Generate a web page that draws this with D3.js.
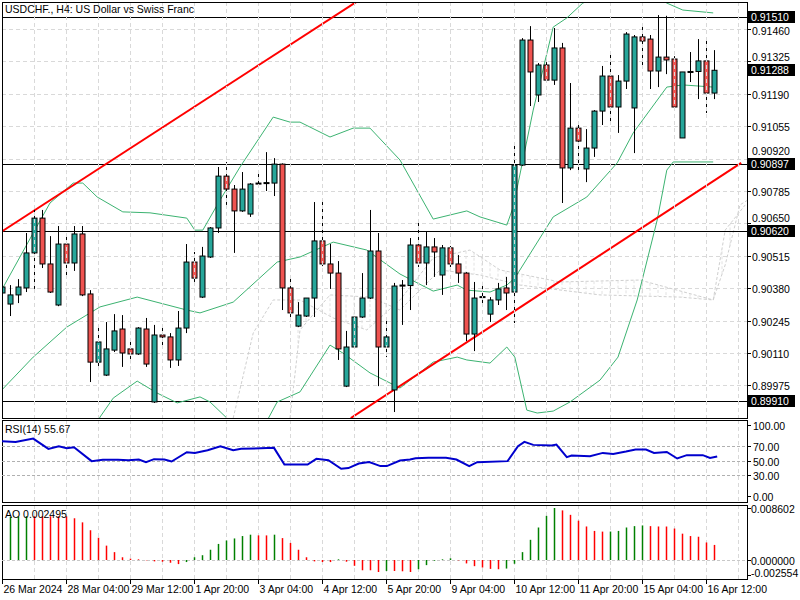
<!DOCTYPE html>
<html><head><meta charset="utf-8">
<script src="https://cdn.jsdelivr.net/npm/d3@7/dist/d3.min.js"></script>
<style>body{margin:0;background:#fff}svg{display:block}text{font-family:"Liberation Sans",Arial,sans-serif;font-size:10.5px}</style>
</head><body><svg id="c" width="800" height="600"></svg>
<script>
// OHLC in points (price*1e5)
const opens=[90360,90314,90352,90381,90527,90672,90481,90310,90564,90485,90606,90356,90072,90018,90122,90210,90127,90106,90210,89906,90185,90177,90081,90214,90489,90343,90510,90631,90847,90793,90702,90689,90818,90818,90818,90897,90381,90222,90264,90339,90577,90481,90443,89972,90135,90260,90339,90535,90135,89956,90393,90391,90560,90485,90552,90435,90548,90481,90443,90189,90343,90272,90331,90381,90364,90893,91414,91185,91310,91247,91381,90881,91047,90877,90964,91118,91264,91135,91243,91131,91427,91418,91285,91343,91335,91006,91281,91283,91327,91193];
const highs=[90402,90393,90418,90610,90706,90706,90597,90639,90610,90639,90639,90372,90222,90239,90272,90268,90168,90218,90256,90227,90227,90193,90285,90564,90531,90552,90635,90885,90906,90810,90864,90818,90856,90947,90922,90900,90427,90322,90339,90739,90739,90564,90493,90202,90260,90443,90706,90610,90256,90402,90414,90589,90652,90614,90589,90560,90556,90518,90447,90406,90406,90343,90402,90427,90977,91422,91472,91318,91322,91464,91402,91235,91060,91043,91122,91306,91368,91268,91447,91435,91472,91435,91518,91515,91347,91281,91364,91418,91418,91372];
const lows=[90331,90264,90318,90364,90377,90464,90360,90305,90427,90452,90347,89989,90039,90014,90114,90052,90068,90102,90052,89902,90135,90048,90056,90193,90406,90339,90506,90610,90727,90527,90698,90677,90810,90785,90764,90289,90260,90218,90260,90260,90472,90377,90081,89968,90131,90256,90335,89972,90093,89864,90227,90289,90468,90393,90427,90352,90468,90402,90160,90118,90318,90239,90310,90289,90235,90889,91139,91156,91235,91227,90735,90872,90860,90822,90927,91060,91068,91027,91210,90943,91310,91210,91218,91272,91131,91006,91239,91168,91110,91168];
const closes=[90385,90352,90385,90527,90672,90481,90364,90564,90485,90606,90352,90072,90156,90127,90202,90110,90106,90214,90064,90185,90177,90081,90214,90489,90422,90514,90631,90847,90793,90702,90793,90814,90814,90820,90897,90381,90277,90268,90339,90577,90481,90443,90127,90135,90260,90339,90535,90135,90177,90389,90391,90560,90485,90552,90531,90548,90481,90443,90189,90339,90345,90331,90377,90360,90893,91414,91281,91310,91247,91381,90881,91047,90993,90964,91118,91264,91135,91243,91439,91427,91410,91285,91343,91331,91135,91281,91283,91327,91193,91288];
// Bollinger bands [bar index, points]
const bbUpper=[[-0.25,90360],[3.9,90610],[6,90735],[8.9,90818],[10.1,90818],[11.9,90760],[15.1,90698],[18.5,90694],[23.1,90672],[24.1,90622],[25.1,90622],[27.25,90747],[29.75,90885],[33.9,91093],[36,91072],[37.25,91072],[41,91010],[43.9,91047],[46,91047],[49.75,90914],[53.9,90668],[58.1,90702],[59.75,90677],[63.1,90643],[63.9,90718],[66.4,91122],[68.9,91468],[70.6,91506],[72.6,91568],[76,91614],[81,91614],[83.1,91568],[85.1,91539],[88.9,91527]];
const bbMiddle=[[-0.25,89948],[3.9,90093],[8.1,90218],[12.25,90302],[16.9,90343],[23.1,90289],[24.75,90277],[28.9,90322],[34.4,90489],[37.25,90510],[41.4,90572],[45.6,90539],[49.75,90439],[53.9,90368],[56.9,90393],[58.1,90372],[61,90364],[63.1,90393],[64.1,90422],[68.9,90677],[73.1,90760],[76.9,90902],[78.9,91027],[83.1,91218],[85.1,91227],[88.9,91218]];
const bbLower=[[11,89747],[12.25,89843],[13.9,89922],[16.9,89993],[19.4,89943],[21.9,89902],[24.75,89927],[26,89906],[28.1,89839],[30.4,89789],[32.5,89789],[34.4,89906],[37.25,89948],[41,90143],[42.6,90110],[46,90027],[49.75,89964],[53.9,90072],[56.9,90093],[58.1,90081],[61,90068],[63.1,90135],[64.1,90093],[65.6,89872],[66.9,89860],[68.9,89868],[71,89906],[74.75,89997],[77,90093],[79.4,90331],[81.9,90664],[83.1,90872],[83.9,90906],[88.9,90906]];
const cloudA=[[28.9,89839],[31.4,90193],[33.9,90331],[37.25,90331],[41.4,90256],[45.6,90206],[49.75,90331],[53.9,90506],[58.5,90539],[62.25,90456],[69.75,90406],[79.75,90414],[88.9,90331],[90.4,90477],[92.25,90727],[93.25,90748]];
const cloudB=[[36,89839],[37.25,90206],[41,90352],[46,90343],[49.75,90289],[54.75,90456],[59.75,90435],[64.75,90393],[74.75,90352],[84.75,90343],[88.9,90331],[90.4,90622],[92.9,90727]];
const trendUpper=[[-0.5,90606],[44.25,91572]];
const trendLower=[[43.6,89839],[92.4,90902]];
const hLines=[91510,90897,90620,89910];
const priceTicks=[91460,91325,91190,91055,90920,90785,90650,90515,90380,90245,90110,89975];
const priceMarks=[91510,91288,90897,90620,89910];
const rsi=[[0,77.1],[1.7,76.2],[3.9,80.8],[5.8,66.4],[7.1,70.1],[8.1,67.3],[9,68.7],[11.2,49.1],[12.6,50.9],[14.5,50.9],[15.8,50.5],[17.1,51.4],[18,47.7],[19,51.9],[20.3,51.4],[21.2,48.6],[23.1,61.7],[24.1,60.7],[25.7,64.5],[27.3,70.1],[28.9,64.5],[29.9,66.4],[34,67.8],[35.3,44.4],[38.2,44.4],[39.3,52.3],[40.8,50.5],[42.4,38.3],[43.3,39.3],[44.6,45.8],[45.9,47.7],[47.3,42.1],[48.1,42.1],[49.75,50],[51,51.4],[51.7,53.3],[53.3,53.7],[55.5,53.7],[56.8,51.4],[58.4,42.1],[59.4,47.7],[63.2,49.1],[64.5,70.1],[65.3,76.2],[66.4,72],[68.7,71],[69.3,72.4],[70.6,54.7],[71.2,57],[73.5,56.1],[75.1,60.7],[76.4,59.3],[78,62.6],[79.2,65.4],[80.5,65.4],[81.5,60.7],[83.1,62.1],[84.4,52.8],[85.6,57.5],[87.6,57.5],[88.5,53.7],[89.4,55.67]];
const rsiLevels=[70,50,30];
const rsiTicks=[100,70,50,30,0];
// AO (x1e-6), bars 1..89
const ao=[7150,7200,7250,7245,7240,7235,7230,7225,6905,6226,4924,3679,2377,1302,453,226,113,-57,-226,-283,-453,-679,-340,453,792,1698,2660,3226,3566,3962,4188,4075,4070,4188,3622,2830,1698,453,-226,-340,-345,113,-283,-962,-1698,-1700,-1981,-1811,-1815,-1868,-1981,-1528,-849,-113,113,283,-57,-566,-1019,-1245,-1471,-1528,-1415,-623,1302,3339,5377,7301,8602,8207,7471,6509,5547,4811,4698,4705,4811,5377,5603,5717,5603,5547,5540,5207,4358,3962,3849,2900,2495];
const aoTicks=[8602,0,-2554];
const timeLabels=["26 Mar 2024","28 Mar 04:00","29 Mar 12:00","1 Apr 20:00","3 Apr 04:00","4 Apr 12:00","5 Apr 20:00","9 Apr 04:00","10 Apr 12:00","11 Apr 20:00","15 Apr 04:00","16 Apr 12:00"];

const svg=d3.select("#c");
const L=2,R=747;
const x=d3.scaleLinear().domain([0,89]).range([2,714]);
const y=d3.scaleLinear().domain([91510,89910]).range([17,401]);
const yR=d3.scaleLinear().domain([0,100]).range([496,425]);
const yA=d3.scaleLinear().domain([0,8602]).range([560,508]);
const panels=[[2,418],[420,502],[505,579]];
const fmt=v=>(v/1e5).toFixed(5);

const defs=svg.append("defs");
panels.forEach((p,k)=>defs.append("clipPath").attr("id","cp"+k).append("rect").attr("x",L).attr("y",p[0]).attr("width",R-L).attr("height",p[1]-p[0]));
const g0=svg.append("g").attr("clip-path","url(#cp0)");
const grid="#d9d9d9";
const vg=d3.range(4,93,4);
panels.forEach((p,k)=>{
  const gg=svg.append("g").attr("clip-path",`url(#cp${k})`);
  gg.selectAll("line").data(vg).join("line").attr("x1",d=>x(d)+0.5).attr("x2",d=>x(d)+0.5).attr("y1",p[0]).attr("y2",p[1]).attr("stroke",grid).attr("stroke-dasharray","4,3");
});
g0.selectAll(".hg").data(priceTicks).join("line").attr("x1",L).attr("x2",R).attr("y1",d=>Math.round(y(d))+0.5).attr("y2",d=>Math.round(y(d))+0.5).attr("stroke",grid).attr("stroke-dasharray","4,3");
const ln=(ys)=>d3.line().x(d=>x(d[0])).y(d=>ys(d[1]));
const cl=g0.append("g").attr("stroke","#cfcfcf").attr("fill","none").attr("stroke-dasharray","3,2");
cl.append("path").attr("d",ln(y)(cloudA));
cl.append("path").attr("d",ln(y)(cloudB));
const interp=(arr,i)=>{for(let k=1;k<arr.length;k++){if(arr[k][0]>=i){const a=arr[k-1],b=arr[k];const t=(i-a[0])/(b[0]-a[0]);return a[1]+t*(b[1]-a[1]);}}return null;};
d3.range(37,93).forEach(i=>{const a=interp(cloudA,i),b=interp(cloudB,i);if(a!=null&&b!=null)cl.append("line").attr("x1",x(i)).attr("x2",x(i)).attr("y1",y(a)).attr("y2",y(b)).attr("stroke","#e2e2e2");});
g0.selectAll(".hl").data(hLines).join("line").attr("x1",L).attr("x2",R).attr("y1",d=>Math.round(y(d))+0.5).attr("y2",d=>Math.round(y(d))+0.5).attr("stroke","#000");
[bbUpper,bbMiddle,bbLower].forEach(b=>g0.append("path").attr("d",ln(y)(b)).attr("fill","none").attr("stroke","#3cb371").attr("stroke-width",1));
[trendUpper,trendLower].forEach(t=>g0.append("path").attr("d",ln(y)(t)).attr("stroke","#ff0000").attr("stroke-width",2));
const idx=d3.range(opens.length);
const cg=g0.append("g");
cg.selectAll(".w").data(idx).join("line").attr("x1",i=>x(i)+0.5).attr("x2",i=>x(i)+0.5).attr("y1",i=>y(highs[i])).attr("y2",i=>y(lows[i])).attr("stroke","#000");
cg.selectAll(".b").data(idx).join("rect").attr("x",i=>x(i)-2).attr("width",5)
 .attr("y",i=>Math.min(y(opens[i]),y(closes[i]))).attr("height",i=>Math.max(1,Math.abs(y(opens[i])-y(closes[i]))))
 .attr("fill",i=>closes[i]>opens[i]?"#26a69a":(closes[i]<opens[i]?"#ef5350":"#000")).attr("stroke","#000");
panels.forEach(p=>svg.append("rect").attr("x",L+0.5).attr("y",p[0]+0.5).attr("width",R-L).attr("height",p[1]-p[0]).attr("fill","none").attr("stroke","#000"));
svg.append("text").attr("x",5).attr("y",13).attr("font-size",11.5).text("USDCHF., H4:  US Dollar vs Swiss Franc");
const ax=svg.append("g");
const markY=priceMarks.map(v=>Math.round(y(v)));
priceTicks.forEach(v=>{const yy=Math.round(y(v))+0.5;ax.append("line").attr("x1",R).attr("x2",R+4).attr("y1",yy).attr("y2",yy).attr("stroke","#000");
  let ty=yy+4;const m=markY.find(my=>Math.abs(my-yy)<13);if(m!==undefined)ty=yy<m?m-9:m+18;
  ax.append("text").attr("x",R+5).attr("y",ty).text(fmt(v));});
priceMarks.forEach(v=>{const yy=Math.round(y(v));ax.append("rect").attr("x",R+1).attr("y",yy-6).attr("width",47).attr("height",12).attr("fill","#000");ax.append("text").attr("x",R+4).attr("y",yy+4).attr("fill","#fff").text(fmt(v));});
const g1=svg.append("g").attr("clip-path","url(#cp1)");
g1.selectAll("line.l").data(rsiLevels).join("line").attr("x1",L).attr("x2",R).attr("y1",d=>Math.round(yR(d))+0.5).attr("y2",d=>Math.round(yR(d))+0.5).attr("stroke","#b0b0b0").attr("stroke-dasharray","3,2");
g1.append("path").attr("d",ln(yR)(rsi)).attr("fill","none").attr("stroke","#0000cd").attr("stroke-width",2);
svg.append("text").attr("x",5).attr("y",433).text("RSI(14) 55.67");
rsiTicks.forEach(v=>{const yy=Math.round(yR(v))+0.5;svg.append("line").attr("x1",R).attr("x2",R+4).attr("y1",yy).attr("y2",yy).attr("stroke","#000");svg.append("text").attr("x",R+6).attr("y",yy+4).text(v.toFixed(2));});
const g2=svg.append("g").attr("clip-path","url(#cp2)");
g2.append("line").attr("x1",L).attr("x2",R).attr("y1",yA(0)+0.5).attr("y2",yA(0)+0.5).attr("stroke","#c8c8c8").attr("stroke-dasharray","3,2");
g2.selectAll("line.a").data(ao).join("line").attr("x1",(d,k)=>x(k+1)+0.5).attr("x2",(d,k)=>x(k+1)+0.5).attr("y1",yA(0)).attr("y2",d=>yA(d))
 .attr("stroke",(d,k)=>(k===0||d>ao[k-1])?"#008000":"#ff0000").attr("stroke-width",1.5);
svg.append("text").attr("x",5).attr("y",518).text("AO 0.002495");
aoTicks.forEach(v=>{const yy=Math.round(yA(v))+0.5;svg.append("line").attr("x1",R).attr("x2",R+4).attr("y1",yy).attr("y2",yy).attr("stroke","#000");svg.append("text").attr("x",R+4).attr("y",Math.min(yy+4,577)).text((v/1e6).toFixed(6));});
timeLabels.forEach((t,k)=>{const xx=x(k*8)+0.5;svg.append("line").attr("x1",xx).attr("x2",xx).attr("y1",579).attr("y2",584).attr("stroke","#000");svg.append("text").attr("x",xx+1).attr("y",593).text(t);});
</script></body></html>
